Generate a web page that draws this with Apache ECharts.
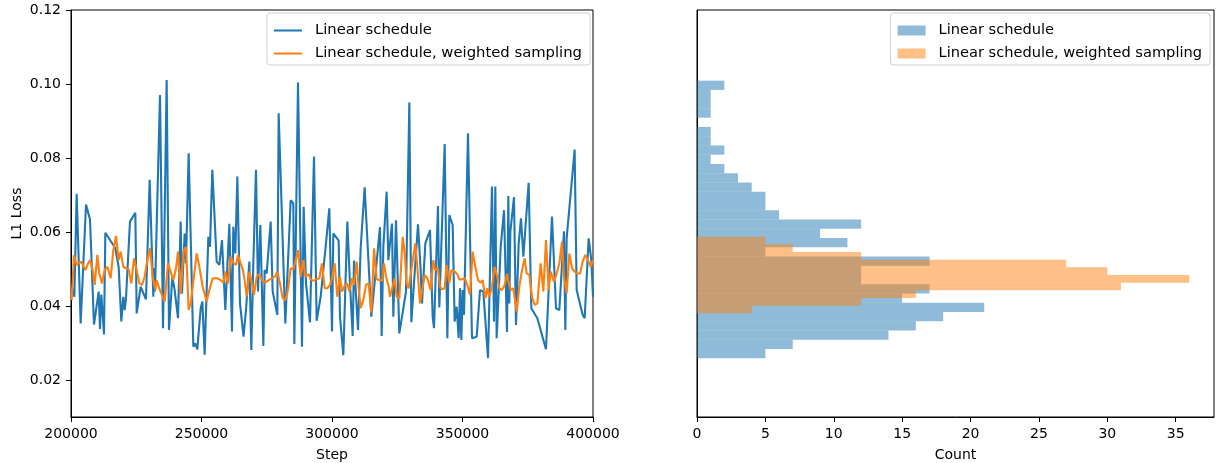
<!DOCTYPE html>
<html>
<head>
<meta charset="utf-8">
<script src="https://cdn.jsdelivr.net/npm/echarts@6/dist/echarts.min.js"></script>
<style>
  html, body { margin: 0; padding: 0; background: #ffffff; }
  #chart { width: 1216px; height: 463px; }
</style>
</head>
<body>
<div id="chart"></div>
<script>
// Training loss, linear schedule (logged steps and L1 loss)
const baseSteps = [
  200260, 201280, 202170, 203700, 205750, 207280, 208810, 210600, 211110, 211620,
  212640, 213150, 216990, 218260, 219280, 220050, 220560, 221070, 222600, 224650,
  225160, 226690, 228730, 230140, 231540, 231800, 232180, 234100, 235250, 236650,
  237550, 238820, 239720, 241000, 242020, 242530, 243550, 244060, 245080, 246870,
  247630, 248400, 249680, 250320, 251210, 252620, 253250, 254150, 255810, 256830,
  257850, 259130, 260660, 261680, 262190, 262960, 263730, 264750, 266100, 267050,
  268330, 269090, 269860, 270880, 271650, 272540, 273690, 274200, 274970, 276500,
  277270, 279050, 279560, 282120, 284160, 285180, 285570, 286970, 288500, 289140,
  290040, 291570, 293100, 294120, 295650, 297440, 298970, 300000, 300510, 302550,
  303060, 304340, 305870, 306890, 307920, 308430, 309960, 310980, 312510, 315070,
  315830, 318390, 319030, 319670, 320940, 321580, 322990, 323500, 324520, 325800,
  328350, 328860, 329630, 330390, 332950, 333970, 334480, 335760, 337550, 338570,
  339080, 340610, 341120, 343170, 344190, 344950, 346230, 346990, 347760, 348530,
  349040, 349550, 350060, 350570, 352100, 353640, 355430, 356700, 357980, 359770,
  361300, 362070, 362580, 363090, 364630, 365900, 367050, 367560, 367940, 368330,
  368960, 369730, 370500, 371520, 372410, 373310, 375350, 376370, 378670, 381990,
  384290, 385820, 387100, 388880, 389400, 389900, 392970, 393740, 396040, 396800,
  398330, 399360, 400000
];
const baseLoss = [
  0.0452, 0.0425, 0.0703, 0.0353, 0.0674, 0.0634, 0.0350, 0.0439, 0.0338, 0.0431,
  0.0323, 0.0598, 0.0556, 0.0505, 0.0358, 0.0425, 0.0389, 0.0421, 0.0628, 0.0652,
  0.0380, 0.0452, 0.0418, 0.0741, 0.0425, 0.0502, 0.0439, 0.0970, 0.0340, 0.1011,
  0.0335, 0.0479, 0.0443, 0.0367, 0.0628, 0.0434, 0.0596, 0.0515, 0.0813, 0.0290,
  0.0299, 0.0283, 0.0394, 0.0412, 0.0268, 0.0587, 0.0560, 0.0768, 0.0520, 0.0511,
  0.0578, 0.0389, 0.0622, 0.0331, 0.0614, 0.0542, 0.0750, 0.0407, 0.0317, 0.0389,
  0.0520, 0.0281, 0.0517, 0.0768, 0.0439, 0.0619, 0.0292, 0.0497, 0.0488, 0.0628,
  0.0439, 0.0376, 0.0921, 0.0353, 0.0686, 0.0677, 0.0297, 0.1004, 0.0290, 0.0668,
  0.0461, 0.0356, 0.0804, 0.0360, 0.0425, 0.0551, 0.0664, 0.0331, 0.0596, 0.0577,
  0.0371, 0.0267, 0.0628, 0.0461, 0.0319, 0.0523, 0.0335, 0.0556, 0.0721, 0.0371,
  0.0373, 0.0613, 0.0319, 0.0560, 0.0709, 0.0524, 0.0623, 0.0371, 0.0632, 0.0326,
  0.0439, 0.0434, 0.0950, 0.0356, 0.0621, 0.0497, 0.0407, 0.0569, 0.0605, 0.0371,
  0.0340, 0.0670, 0.0396, 0.0838, 0.0313, 0.0646, 0.0619, 0.0358, 0.0398, 0.0313,
  0.0448, 0.0308, 0.0443, 0.0376, 0.0867, 0.0313, 0.0317, 0.0443, 0.0439, 0.0259,
  0.0723, 0.0358, 0.0723, 0.0313, 0.0560, 0.0659, 0.0330, 0.0697, 0.0407, 0.0601,
  0.0596, 0.0694, 0.0349, 0.0568, 0.0637, 0.0533, 0.0733, 0.0394, 0.0367, 0.0283,
  0.0642, 0.0394, 0.0389, 0.0602, 0.0335, 0.0583, 0.0823, 0.0443, 0.0376, 0.0367,
  0.0583, 0.0524, 0.0425
];

// Training loss, linear schedule with weighted sampling
const weightedSteps = [
  200260, 201150, 202170, 202940, 203960, 205490, 206510, 207280, 208300, 209070,
  210090, 210850, 211880, 212900, 213920, 215200, 216220, 217240, 218260, 219030,
  220050, 221070, 222090, 223110, 224140, 225160, 226180, 227200, 228220, 229240,
  230270, 231290, 232300, 232800, 233590, 234610, 235890, 237160, 238190, 239210,
  240230, 241000, 242020, 242780, 243290, 244060, 245080, 245850, 246870, 248150,
  249170, 250440, 251980, 253000, 254280, 256060, 257340, 258360, 259130, 260150,
  261170, 262190, 263210, 263980, 265000, 265770, 266540, 267310, 268330, 269090,
  270110, 271140, 272160, 273180, 274460, 275730, 277010, 278290, 279050, 280070,
  281100, 282120, 283140, 284160, 285180, 285950, 286970, 287990, 289010, 289780,
  291060, 291820, 292840, 293870, 295140, 296160, 297190, 298210, 299230, 300000,
  301020, 302040, 303060, 303830, 304850, 305870, 306640, 307660, 308430, 309450,
  310220, 310980, 312000, 313030, 314050, 315070, 316090, 317110, 318130, 319150,
  319920, 320690, 321710, 322220, 323240, 324010, 324770, 325800, 327070, 327840,
  328600, 329370, 330390, 331920, 332690, 333720, 334480, 335500, 336530, 337800,
  338820, 339590, 340610, 341380, 342140, 343170, 343930, 344950, 345720, 346990,
  348020, 348780, 349810, 350830, 351850, 352870, 353890, 354910, 355940, 356960,
  357720, 358750, 359510, 360280, 361300, 362320, 363340, 364110, 365130, 366150,
  367170, 367430, 368450, 369480, 370750, 371770, 372800, 373820, 374580, 375600,
  376630, 377650, 378670, 379950, 380970, 381990, 383010, 383780, 385060, 386080,
  387100, 388120, 388890, 389910, 390930, 391950, 392970, 394000, 395020, 396040,
  397060, 398080, 399110, 400000
];
const weightedLoss = [
  0.0416, 0.0538, 0.0511, 0.0515, 0.0520, 0.0497, 0.0515, 0.0524, 0.0497, 0.0457,
  0.0538, 0.0488, 0.0461, 0.0497, 0.0506, 0.0475, 0.0551, 0.0589, 0.0524, 0.0547,
  0.0506, 0.0502, 0.0499, 0.0461, 0.0529, 0.0497, 0.0461, 0.0457, 0.0479, 0.0524,
  0.0556, 0.0479, 0.0443, 0.0470, 0.0452, 0.0434, 0.0412, 0.0515, 0.0493, 0.0470,
  0.0502, 0.0547, 0.0432, 0.0515, 0.0551, 0.0560, 0.0389, 0.0407, 0.0466, 0.0542,
  0.0506, 0.0452, 0.0412, 0.0443, 0.0475, 0.0475, 0.0470, 0.0463, 0.0493, 0.0461,
  0.0533, 0.0517, 0.0511, 0.0538, 0.0515, 0.0500, 0.0470, 0.0425, 0.0493, 0.0470,
  0.0430, 0.0479, 0.0486, 0.0470, 0.0463, 0.0470, 0.0475, 0.0481, 0.0493, 0.0461,
  0.0421, 0.0416, 0.0443, 0.0502, 0.0499, 0.0520, 0.0551, 0.0479, 0.0524, 0.0479,
  0.0486, 0.0472, 0.0468, 0.0472, 0.0475, 0.0515, 0.0448, 0.0448, 0.0457, 0.0475,
  0.0515, 0.0425, 0.0479, 0.0439, 0.0454, 0.0461, 0.0439, 0.0475, 0.0457, 0.0520,
  0.0448, 0.0394, 0.0416, 0.0457, 0.0461, 0.0382, 0.0556, 0.0472, 0.0470, 0.0468,
  0.0515, 0.0479, 0.0452, 0.0425, 0.0452, 0.0475, 0.0425, 0.0421, 0.0587, 0.0547,
  0.0461, 0.0448, 0.0497, 0.0569, 0.0506, 0.0407, 0.0403, 0.0484, 0.0475, 0.0443,
  0.0524, 0.0497, 0.0502, 0.0452, 0.0445, 0.0448, 0.0511, 0.0461, 0.0497, 0.0493,
  0.0486, 0.0472, 0.0472, 0.0475, 0.0457, 0.0430, 0.0547, 0.0506, 0.0470, 0.0463,
  0.0470, 0.0421, 0.0448, 0.0425, 0.0452, 0.0506, 0.0479, 0.0448, 0.0443, 0.0457,
  0.0488, 0.0470, 0.0443, 0.0448, 0.0385, 0.0452, 0.0497, 0.0529, 0.0488, 0.0484,
  0.0425, 0.0403, 0.0407, 0.0515, 0.0439, 0.0578, 0.0443, 0.0493, 0.0466, 0.0488,
  0.0515, 0.0574, 0.0479, 0.0434, 0.0542, 0.0502, 0.0493, 0.0488, 0.0488, 0.0520,
  0.0538, 0.0524, 0.0506, 0.0524
];

// Loss histograms: counts per bin, lowest loss bin first
const baseHistRange = [0.02586, 0.10090];
const baseHistCounts = [5, 7, 14, 16, 18, 21, 15, 17, 12, 12, 17, 5, 11, 9, 12, 6, 5, 5, 4, 3, 2, 1, 2, 1, 1, 0, 1, 1, 1, 2];
const weightedHistRange = [0.03802, 0.05873];
const weightedHistCounts = [4, 12, 16, 31, 36, 30, 27, 12, 7, 5];

// Tick labels
const lossTicks = [0.02, 0.04, 0.06, 0.08, 0.10, 0.12];
const stepTicks = [200000, 250000, 300000, 350000, 400000];
const countTicks = [0, 5, 10, 15, 20, 25, 30, 35];

const seriesNames = ['Linear schedule', 'Linear schedule, weighted sampling'];
const lineColors = ['#1f77b4', '#ff7f0e'];
const histColors = ['rgba(31,119,180,0.5)', 'rgba(255,127,14,0.5)'];

const FONT = 'DejaVu Sans';
const FS = 14;

function zip(xs, ys) { return xs.map((x, i) => [x, ys[i]]); }

function histRows(range, counts) {
  const w = (range[1] - range[0]) / counts.length;
  return counts.map((c, i) => [range[0] + i * w, range[0] + (i + 1) * w, c]);
}

function histItem(params, api) {
  const lo = api.value(0), hi = api.value(1), n = api.value(2);
  const a = api.coord([0, hi]);
  const b = api.coord([n, lo]);
  return {
    type: 'rect',
    shape: { x: a[0], y: a[1], width: b[0] - a[0], height: b[1] - a[1] },
    style: { fill: api.visual('color') }
  };
}

const axisLine = { show: true, onZero: false, lineStyle: { color: '#000', width: 1 } };
const tickStyle = { show: true, inside: false, length: 5, lineStyle: { color: '#000', width: 1 } };
const labelStyle = { color: '#000', fontFamily: FONT, fontSize: FS };
const nameStyle = { color: '#000', fontFamily: FONT, fontSize: FS };

function legendBox(rightPx, icons, h, fs) {
  return {
    orient: 'vertical', right: rightPx, top: 13,
    data: icons,
    itemWidth: 28, itemHeight: h, itemGap: 8,
    padding: [10, 8, 4, 7],
    borderColor: '#d0d0d0', borderWidth: 1, borderRadius: 3,
    backgroundColor: 'rgba(255,255,255,0.8)',
    textStyle: { color: '#000', fontFamily: FONT, fontSize: fs, padding: [0, 0, 0, 8] },
    selectedMode: false
  };
}

const gridBase = {
  top: 10, bottom: 46, show: true, borderColor: '#000', borderWidth: 1,
  backgroundColor: 'transparent', containLabel: false, outerBoundsMode: 'none'
};

const option = {
  animation: false,
  backgroundColor: '#ffffff',
  textStyle: { fontFamily: FONT },
  grid: [
    { ...gridBase, left: 71, right: 623 },
    { ...gridBase, left: 697, right: 2 }
  ],
  xAxis: [
    {
      type: 'value', gridIndex: 0, min: 200000, max: 400000, interval: 50000,
      axisLine, axisTick: { ...tickStyle, customValues: stepTicks },
      axisLabel: { ...labelStyle, margin: 10, customValues: stepTicks, formatter: v => String(v) },
      splitLine: { show: false },
      name: 'Step', nameLocation: 'middle', nameGap: 31, nameTextStyle: nameStyle
    },
    {
      type: 'value', gridIndex: 1, min: 0, max: 37.8,
      axisLine, axisTick: { ...tickStyle, customValues: countTicks },
      axisLabel: { ...labelStyle, margin: 10, customValues: countTicks, formatter: v => String(v) },
      splitLine: { show: false },
      name: 'Count', nameLocation: 'middle', nameGap: 31, nameTextStyle: nameStyle
    }
  ],
  yAxis: [
    {
      type: 'value', gridIndex: 0, min: 0.01, max: 0.12,
      axisLine, axisTick: { ...tickStyle, customValues: lossTicks },
      axisLabel: { ...labelStyle, margin: 10, customValues: lossTicks, formatter: v => v.toFixed(2) },
      splitLine: { show: false },
      name: 'L1 Loss', nameLocation: 'middle', nameGap: 47, nameRotate: 90, nameTextStyle: nameStyle
    },
    {
      type: 'value', gridIndex: 1, min: 0.01, max: 0.12,
      axisLine, axisTick: { show: false }, axisLabel: { show: false },
      splitLine: { show: false }
    }
  ],
  legend: [
    legendBox(626, seriesNames.map(n => ({ name: n, icon: 'rect' })), 2, 14.8),
    legendBox(6, seriesNames.map((n, i) => ({ name: n, icon: 'rect', itemStyle: { color: histColors[i], borderWidth: 0 } })), 10, 14.6)
  ],
  series: [
    {
      name: seriesNames[0], type: 'line', xAxisIndex: 0, yAxisIndex: 0,
      data: zip(baseSteps, baseLoss), showSymbol: false, symbol: 'none',
      lineStyle: { color: lineColors[0], width: 2.1 }, itemStyle: { color: lineColors[0] }, z: 2
    },
    {
      name: seriesNames[1], type: 'line', xAxisIndex: 0, yAxisIndex: 0,
      data: zip(weightedSteps, weightedLoss), showSymbol: false, symbol: 'none',
      lineStyle: { color: lineColors[1], width: 2.1 }, itemStyle: { color: lineColors[1] }, z: 3
    },
    {
      name: seriesNames[0], type: 'custom', xAxisIndex: 1, yAxisIndex: 1,
      renderItem: histItem, encode: { x: 2, y: [0, 1] },
      data: histRows(baseHistRange, baseHistCounts),
      itemStyle: { color: histColors[0] }, z: 2
    },
    {
      name: seriesNames[1], type: 'custom', xAxisIndex: 1, yAxisIndex: 1,
      renderItem: histItem, encode: { x: 2, y: [0, 1] },
      data: histRows(weightedHistRange, weightedHistCounts),
      itemStyle: { color: histColors[1] }, z: 3
    }
  ]
};

const chart = echarts.init(document.getElementById('chart'), null, { renderer: 'canvas' });
chart.setOption(option);
</script>
</body>
</html>
